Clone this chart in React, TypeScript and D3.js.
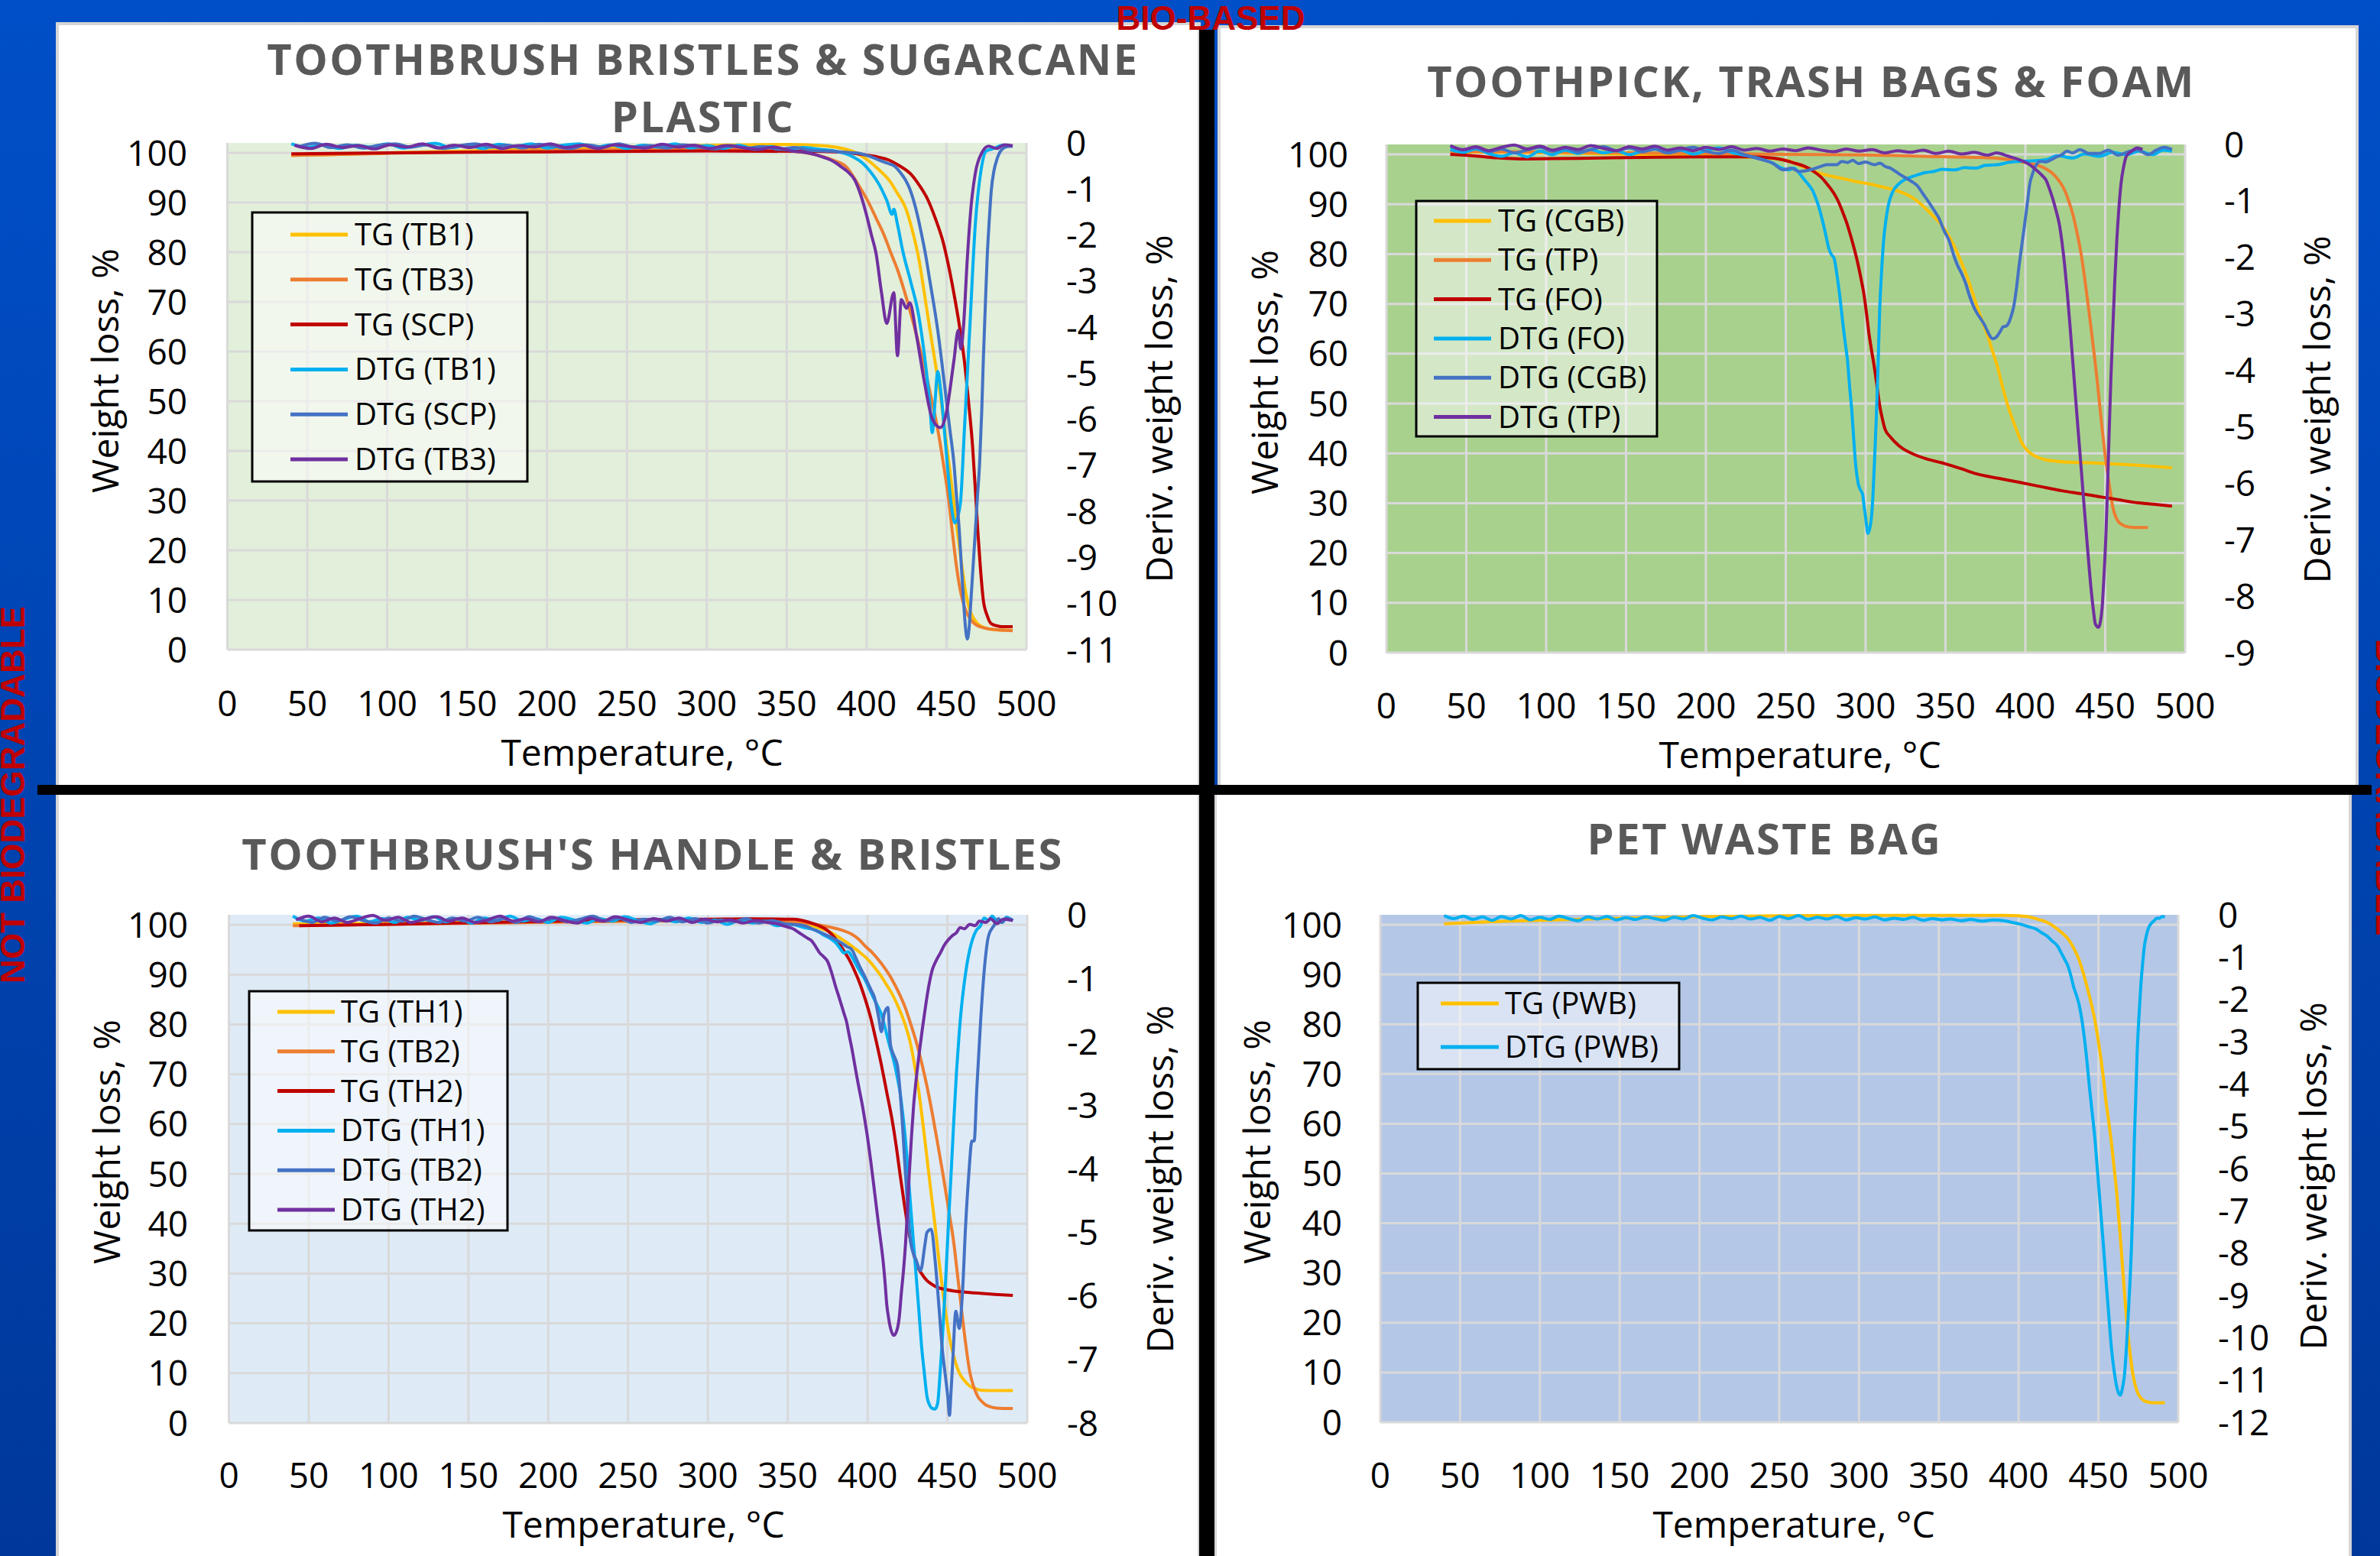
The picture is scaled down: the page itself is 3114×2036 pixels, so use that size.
import * as d3 from 'd3';

type Pt = [number, number];

// ---- tick labels ----
const temperatureTicks = [0, 50, 100, 150, 200, 250, 300, 350, 400, 450, 500];
const weightTicks = [0, 10, 20, 30, 40, 50, 60, 70, 80, 90, 100];
const derivTicks11 = [0, -1, -2, -3, -4, -5, -6, -7, -8, -9, -10, -11];
const derivTicks9 = [0, -1, -2, -3, -4, -5, -6, -7, -8, -9];
const derivTicks8 = [0, -1, -2, -3, -4, -5, -6, -7, -8];
const derivTicks12 = [0, -1, -2, -3, -4, -5, -6, -7, -8, -9, -10, -11, -12];

// ---- toothbrush bristles & sugarcane plastic ----
const tgTB1: Pt[] = [[40,99.5],[60,99.6],[100,100],[150,100.4],[200,100.8],[250,101.2],[300,101.5],[350,101.7],[375,101.4],[386,100.8],[394,99.9],[400.9,98.5],[407,96.8],[414.3,94.4],[419,92],[424.4,88.9],[428.5,84.5],[432.7,78.6],[436,72],[439.4,64.8],[442.8,58],[446.2,51.1],[449.5,42.5],[452.9,33.9],[456.2,25.3],[459.6,16.8],[462,11.5],[464.6,7.9],[468,5.8],[473,4.5],[480,4.0],[491.4,3.9]];
const tgTB3: Pt[] = [[40,99.5],[100,99.9],[150,100.2],[200,100.5],[250,100.7],[300,100.8],[340,100.6],[360,100.1],[372,99.3],[380,98.4],[387.5,97.1],[394,94],[400.9,90.2],[406,86.8],[411,83.4],[415,80],[419.3,76.5],[423.5,72.3],[427.7,67.6],[432.7,61.4],[437.8,54.6],[441.2,49.5],[444.5,44.3],[448,37.5],[451.2,30.5],[453.7,23.5],[456.2,16.8],[458.7,11.8],[461.2,8.6],[464.5,6.3],[468,5.1],[473,4.4],[478,4.1],[491.4,3.8]];
const tgSCP: Pt[] = [[40,99.8],[100,100],[200,100.2],[300,100.4],[360,100.3],[380,100.2],[394.2,99.8],[405,99.3],[414.3,98.5],[421,97.3],[427.7,95.7],[432.7,93.6],[437.8,90.9],[443,86.8],[447.9,82],[451.3,77.2],[454.6,71.7],[458,65.3],[461.2,58],[463.8,49.8],[466.3,40.9],[468,32.3],[469.6,23.7],[471.3,16],[473,10],[475.5,6.8],[478,5.2],[481.3,4.8],[484.7,4.6],[491.4,4.6]];
const dtgTB1: Pt[] = [[40,-0.02],[50,-0.10],[60,-0.04],[70,-0.12],[80,-0.05],[90,-0.09],[100,-0.02],[110,-0.11],[120,-0.06],[130,-0.01],[140,-0.10],[150,-0.05],[160,-0.12],[170,-0.03],[180,-0.08],[190,-0.02],[200,-0.11],[210,-0.05],[220,-0.02],[230,-0.10],[240,-0.04],[250,-0.12],[260,-0.05],[270,-0.09],[280,-0.02],[290,-0.11],[300,-0.06],[310,-0.12],[320,-0.05],[330,-0.14],[340,-0.08],[350,-0.15],[360,-0.10],
  [370.7,-0.14],[380.7,-0.18],[390.8,-0.29],[397.5,-0.44],[402.5,-0.63],[407.6,-0.89],[412.6,-1.25],[416,-1.55],[417,-1.44],[419.3,-1.77],[422.7,-2.36],[427.7,-3.03],[432.7,-3.77],[436.1,-4.59],[439.4,-5.62],[441.1,-6.29],[442.8,-5.62],[444.5,-4.96],[446.2,-5.33],[449.5,-6.58],[452.9,-7.84],[455.2,-8.25],[458.6,-7.84],[461.2,-6.21],[464.6,-3.99],[468,-1.77],[471.3,-0.66],[474.7,-0.18],[479.7,-0.12],[485,-0.05],[491.4,-0.07]];
const dtgSCP: Pt[] = [[45,-0.08],[55,-0.01],[65,-0.10],[75,-0.04],[85,-0.11],[95,-0.05],[105,-0.02],[115,-0.09],[125,-0.04],[135,-0.12],[145,-0.06],[155,-0.02],[165,-0.09],[175,-0.05],[185,-0.11],[195,-0.03],[205,-0.08],[215,-0.12],[225,-0.04],[235,-0.09],[245,-0.02],[255,-0.10],[265,-0.06],[275,-0.11],[285,-0.04],[295,-0.09],[305,-0.13],[315,-0.06],[325,-0.11],[335,-0.08],[345,-0.14],[355,-0.10],[365,-0.16],
  [377.4,-0.18],[385,-0.2],[394.2,-0.22],[401,-0.28],[407.6,-0.37],[413,-0.44],[417.7,-0.51],[421,-0.64],[424.4,-0.81],[427,-1.0],[429.4,-1.25],[432,-1.6],[434.4,-1.99],[437,-2.45],[439.4,-2.96],[442,-3.5],[444.5,-4.07],[447,-4.75],[449.5,-5.47],[452,-6.2],[454.6,-6.95],[456.3,-7.7],[458,-8.43],[459.3,-9.2],[460.6,-9.91],[461.8,-10.5],[463,-10.77],[464.2,-10.5],[465.3,-9.91],[466.6,-9.2],[468,-8.43],[469.3,-7.7],[470.7,-6.95],[472,-5.85],[473,-4.73],[474.2,-3.6],[475.4,-2.51],[476.7,-1.7],[478,-1.03],[479.7,-0.6],[481.4,-0.37],[484.7,-0.14],[488,-0.08],[491.4,-0.07]];
const dtgTB3: Pt[] = [[42,-0.05],[52,-0.12],[62,-0.03],[72,-0.10],[82,-0.06],[92,-0.13],[102,-0.04],[112,-0.09],[122,-0.02],[132,-0.11],[142,-0.05],[152,-0.10],[162,-0.03],[172,-0.12],[182,-0.06],[192,-0.09],[202,-0.02],[212,-0.10],[222,-0.05],[232,-0.12],[242,-0.04],[252,-0.08],[262,-0.11],[272,-0.03],[282,-0.09],[292,-0.05],[302,-0.12],[312,-0.06],[322,-0.10],[332,-0.14],[342,-0.09],
  [353.9,-0.18],[360,-0.2],[367.3,-0.25],[372,-0.3],[377.4,-0.37],[381,-0.44],[384.1,-0.52],[388,-0.62],[392.5,-0.80],[396.5,-1.15],[400.2,-1.6],[403,-2.0],[405.9,-2.4],[409.3,-3.25],[412.6,-3.92],[417,-3.25],[419.3,-4.62],[421.7,-3.4],[425,-3.59],[427,-3.47],[431,-4.14],[436.1,-5.18],[441.1,-5.99],[446.2,-6.18],[449.5,-5.92],[454.6,-4.73],[457.3,-4.07],[459,-4.47],[460.6,-3.99],[463,-2.51],[465.3,-1.4],[468,-0.66],[472,-0.22],[476.3,-0.07],[481.4,-0.12],[486,-0.04],[491.4,-0.06]];

// ---- toothpick, trash bags & foam ----
const tgCGB: Pt[] = [[40,100.5],[80,100.4],[120,100.2],[160,100],[200,99.7],[230,99.4],[245,99.1],[251.8,98.7],[260,97.6],[268.5,96.5],[276,95.8],[285.3,95.2],[293,94.6],[302.1,94.1],[310,93.5],[318.9,92.8],[324,92.2],[328.9,91.4],[334,90.2],[339,88.7],[343,87.4],[347.4,85.9],[351,84.2],[354,82.5],[358,79.8],[362.5,76.3],[365.8,73.3],[369,70.2],[372.5,67],[376,64],[379.3,60.6],[382.7,57.2],[385.2,54],[387.7,51],[390.2,48.4],[392.7,46.2],[395.3,44],[397.8,42.1],[400.3,40.9],[402.8,40.1],[407,39.3],[412.9,38.7],[420,38.4],[429.7,38.2],[440,38.1],[449.8,37.98],[460,37.8],[470,37.6],[480,37.4],[491.8,37.1]];
const tgTP: Pt[] = [[40,100.6],[100,100.5],[150,100.3],[200,100.2],[250,100],[300,99.9],[340,99.6],[379.3,99.3],[396.1,98.6],[403,98.2],[409.5,97.6],[414,96.9],[418,95.9],[421.5,94.5],[424.6,92.8],[427.2,90.6],[429.7,88],[432.2,84.5],[434.7,80.4],[437.2,75],[439.7,68.8],[442.3,62],[444.8,55.1],[446.5,49.8],[448.1,44.8],[449.8,40],[451.5,35.9],[453.2,32.2],[454.8,29.1],[456.5,27.3],[458.2,26.3],[460.5,25.7],[463.2,25.3],[470,25.1],[476.7,25.1]];
const tgFO: Pt[] = [[40,100],[55,99.7],[70,99.3],[83.9,99.1],[120,99.2],[160,99.4],[194.7,99.5],[228.3,99.5],[240,99.3],[248.4,98.9],[255,98.3],[261.8,97.6],[267,96.7],[271.9,95.5],[276,94],[280.3,92.1],[283,90.5],[285.3,88.7],[288,86.4],[290.4,83.9],[293,80.9],[295.4,77.7],[297,75.2],[298.8,72.2],[300.5,68.2],[302.1,64],[303.8,60.5],[305.5,57.2],[307.2,53.3],[308.8,49.6],[310.5,46.9],[312.2,44.8],[315.5,43.3],[318.9,42.1],[323,41],[328.9,40],[338,38.9],[349.1,37.98],[360,36.9],[369.2,35.9],[383,35],[396.1,34.2],[410,33.3],[422.9,32.5],[435,31.9],[446.4,31.3],[458,30.7],[470,30.1],[480,29.8],[491.8,29.4]];
const dtgFO: Pt[] = [[40,-0.09],[48,-0.14],[56,-0.08],[64,-0.16],[72,-0.21],[80,-0.15],[88,-0.22],[96,-0.12],[104,-0.18],[112,-0.10],[120,-0.16],[128,-0.09],[136,-0.15],[144,-0.11],[152,-0.18],[160,-0.12],[168,-0.08],[176,-0.15],[184,-0.10],[192,-0.17],[200,-0.11],[208,-0.06],[216,-0.14],[224,-0.19],[232,-0.24],
  [241.7,-0.33],[246,-0.40],[251.8,-0.45],[255,-0.42],[258.5,-0.51],[261.8,-0.63],[264.5,-0.72],[266.9,-0.82],[268.5,-0.93],[270.2,-1.06],[272,-1.24],[273.6,-1.42],[275.2,-1.62],[276.9,-1.84],[278.6,-1.95],[280.3,-2.02],[282,-2.3],[283.6,-2.63],[284.8,-2.93],[286,-3.23],[287.4,-3.55],[288.7,-3.84],[290,-4.3],[291.4,-4.74],[292.5,-5.2],[293.7,-5.65],[295.4,-6.01],[296.8,-6.12],[298.1,-6.19],[299,-6.4],[299.8,-6.56],[300.6,-6.75],[301.4,-6.89],[302.6,-6.8],[303.8,-6.56],[304.6,-6.2],[305.5,-5.65],[306.3,-5.1],[307.2,-4.44],[308,-3.7],[308.8,-2.93],[310,-2.25],[311.2,-1.72],[312.5,-1.38],[313.9,-1.12],[317.3,-0.82],[320,-0.72],[324,-0.63],[328,-0.58],[332.3,-0.54],[337,-0.50],[342.4,-0.48],[348,-0.44],[355.8,-0.45],[362,-0.41],[369.2,-0.42],[375,-0.37],[382.7,-0.36],[389,-0.32],[396.1,-0.30],[404,-0.29],[412.9,-0.27],[420,-0.20],[429.7,-0.24],[437,-0.17],[446.4,-0.21],[455,-0.14],[463.2,-0.18],[471,-0.12],[480,-0.18],[486,-0.10],[491.8,-0.12]];
const dtgCGB: Pt[] = [[40,-0.03],[48,-0.10],[56,-0.06],[64,-0.13],[72,-0.08],[80,-0.15],[88,-0.10],[96,-0.05],[104,-0.12],[112,-0.07],[120,-0.14],[128,-0.09],[136,-0.04],[144,-0.11],[152,-0.06],[160,-0.13],[168,-0.08],[176,-0.15],[184,-0.10],[192,-0.05],[200,-0.12],[208,-0.16],[216,-0.10],[224,-0.18],
  [235,-0.27],[241.7,-0.33],[248.4,-0.45],[253.4,-0.42],[258.5,-0.48],[265.2,-0.45],[271.9,-0.39],[276,-0.36],[281.9,-0.36],[285,-0.30],[288.7,-0.32],[292,-0.28],[295.4,-0.34],[300,-0.31],[305.5,-0.36],[309,-0.33],[312.2,-0.39],[315.5,-0.42],[318.9,-0.48],[322,-0.54],[325.6,-0.60],[329,-0.66],[332.3,-0.73],[336,-0.88],[339,-1.0],[342.5,-1.15],[345.8,-1.30],[349,-1.52],[352.5,-1.72],[355,-1.95],[357.5,-2.14],[360,-2.28],[362.5,-2.45],[365,-2.68],[367.6,-2.87],[370,-3.0],[372.6,-3.11],[374.5,-3.2],[376,-3.29],[378,-3.40],[379.3,-3.44],[381,-3.43],[382.7,-3.38],[384.5,-3.30],[386,-3.23],[387.8,-3.22],[389.4,-3.17],[391,-3.05],[392.7,-2.87],[394.4,-2.55],[396.1,-2.14],[397.8,-1.78],[399.5,-1.42],[401.2,-1.05],[402.8,-0.69],[404.5,-0.52],[406.2,-0.39],[409.5,-0.30],[413,-0.31],[416.2,-0.27],[419.5,-0.22],[422.9,-0.18],[426,-0.12],[429.7,-0.15],[434,-0.09],[440,-0.16],[446.4,-0.16],[452,-0.10],[458,-0.19],[463.2,-0.14],[470,-0.09],[476.7,-0.18],[482,-0.10],[487,-0.05],[491.8,-0.09]];
const dtgTP: Pt[] = [[40,-0.02],[48,-0.09],[56,-0.04],[64,-0.11],[72,-0.05],[80,-0.01],[88,-0.08],[96,-0.03],[104,-0.10],[112,-0.05],[120,-0.09],[128,-0.02],[136,-0.07],[144,-0.11],[152,-0.04],[160,-0.08],[168,-0.03],[176,-0.10],[184,-0.06],[192,-0.11],[200,-0.05],[208,-0.09],[216,-0.04],[224,-0.10],[232,-0.07],[240,-0.12],[248,-0.08],[256,-0.11],[264,-0.06],[272,-0.10],[280,-0.13],[288,-0.08],[296,-0.12],[304,-0.09],[312,-0.15],[320,-0.11],[328,-0.14],[336,-0.10],[344,-0.16],[352,-0.12],[360,-0.17],[368,-0.14],[376,-0.19],[382,-0.15],
  [389.4,-0.21],[396.1,-0.27],[402.8,-0.36],[405,-0.41],[407.9,-0.48],[410.5,-0.55],[412.9,-0.63],[415,-0.78],[416.9,-0.94],[419,-1.15],[421.3,-1.42],[423,-1.75],[424.6,-2.14],[426.3,-2.65],[428,-3.23],[429.7,-3.85],[431.3,-4.44],[433,-5.05],[434.7,-5.65],[436.4,-6.27],[438.1,-6.86],[439.8,-7.45],[441.4,-7.95],[442.6,-8.25],[443.8,-8.49],[445.8,-8.55],[447,-8.45],[448.1,-8.19],[449.3,-7.6],[450.5,-6.86],[451.5,-6.0],[452.5,-5.05],[453.6,-4.1],[454.8,-3.23],[456,-2.4],[457.2,-1.72],[458.5,-1.15],[459.9,-0.69],[461.5,-0.40],[463.2,-0.21],[466.6,-0.12],[470,-0.06],[473.3,-0.09]];

// ---- toothbrush's handle & bristles ----
const tgTH1: Pt[] = [[40,100.2],[100,100.3],[150,100.5],[200,100.6],[250,100.7],[300,100.8],[340,100.6],[360,100.2],[368,99.5],[376.8,98.5],[383,97.3],[390.2,95.7],[395,94.5],[400.3,93],[404.5,91.4],[408.7,89.6],[412,87.9],[415.4,86.1],[418.7,83.9],[422.1,81.3],[424.6,78.9],[427.1,75.9],[429.6,71.5],[432.2,66.3],[434.7,60],[437.2,53.3],[439.7,46.4],[442.3,39.6],[444.8,32.4],[447.3,25.9],[449.8,20.2],[452.3,15.6],[454.8,12.5],[457.4,10.1],[460.7,8.5],[464.1,7.4],[467.5,6.9],[470.8,6.6],[480,6.5],[491,6.5]];
const tgTB2: Pt[] = [[40,99.8],[100,100.1],[150,100.3],[200,100.5],[250,100.7],[300,100.9],[340,100.7],[360,100.4],[376.8,99.5],[384,98.9],[390.2,98.1],[394.5,97.1],[398.6,95.7],[403,94.4],[407,92.9],[410.3,91.5],[413.7,89.9],[417,88],[420.4,85.8],[423.8,83.2],[427.1,80],[430.5,76.5],[433.8,72.4],[437.2,67.6],[440.5,62.2],[443.9,56.1],[447.3,49.8],[450.7,43],[454,36.2],[456.5,29.3],[459,22.4],[461.5,15.8],[464.1,10.1],[466.6,7.2],[469.1,5.3],[471.6,4.3],[474.2,3.6],[477.5,3.2],[480.9,3.0],[491,2.9]];
const tgTH2: Pt[] = [[44,99.8],[100,100.1],[150,100.4],[200,100.7],[250,101],[300,101.1],[326.4,101.2],[353.3,101.1],[363.3,100.5],[368,100],[373.4,99.2],[377.5,98.1],[381.8,96.4],[385.1,94.8],[388.5,93],[391.8,90.8],[395.2,88.2],[398.6,85],[402,81.3],[405.3,76.8],[408.7,71.8],[412,66.4],[415.4,60.8],[418,55.5],[420.4,49.8],[423,44],[425.5,38.9],[428,35.1],[430.5,32],[433.8,30],[437.2,28.6],[440.5,27.8],[443.9,27.2],[449,26.8],[454,26.5],[460,26.3],[467.4,26.1],[480,25.8],[491,25.6]];
const dtgTH1: Pt[] = [[40,-0.02],[48,-0.10],[56,-0.05],[64,-0.13],[72,-0.07],[80,-0.02],[88,-0.11],[96,-0.06],[104,-0.12],[112,-0.04],[120,-0.09],[128,-0.03],[136,-0.11],[144,-0.06],[152,-0.13],[160,-0.05],[168,-0.09],[176,-0.02],[184,-0.10],[192,-0.06],[200,-0.12],[208,-0.04],[216,-0.08],[224,-0.13],[232,-0.06],[240,-0.10],[248,-0.03],[256,-0.09],[264,-0.14],[272,-0.07],[280,-0.11],[288,-0.05],[296,-0.12],[304,-0.08],[312,-0.15],[320,-0.09],[328,-0.13],[336,-0.10],
  [343.2,-0.17],[352,-0.15],[360,-0.20],[367,-0.24],[373.4,-0.33],[377,-0.38],[380.1,-0.44],[382.6,-0.52],[385.2,-0.60],[387.7,-0.58],[390.2,-0.66],[393.6,-0.82],[396,-0.92],[398.6,-1.03],[401,-1.16],[403.6,-1.30],[406,-1.42],[408.7,-1.57],[411.2,-1.8],[413.7,-2.05],[415.4,-2.2],[417.1,-2.37],[418.8,-2.58],[420.4,-2.80],[422.1,-3.15],[423.8,-3.56],[425.5,-4.08],[427.1,-4.63],[428.8,-5.17],[430.5,-5.70],[432.2,-6.25],[433.8,-6.78],[435.5,-7.2],[437.2,-7.58],[438.9,-7.72],[440.5,-7.77],[442.2,-7.78],[443.9,-7.69],[445.2,-7.3],[446.6,-6.78],[447.8,-6.25],[449,-5.70],[450.6,-4.9],[452.3,-4.09],[454,-3.25],[455.7,-2.48],[457.3,-1.9],[459,-1.41],[460.7,-1.05],[462.4,-0.76],[464,-0.55],[465.7,-0.39],[468,-0.25],[470.8,-0.17],[473,-0.05],[475.8,-0.09],[478,-0.02],[481,-0.10],[484.2,-0.12],[487,-0.04],[491,-0.09]];
const dtgTB2: Pt[] = [[44,-0.06],[52,-0.12],[60,-0.04],[68,-0.10],[76,-0.03],[84,-0.09],[92,-0.13],[100,-0.05],[108,-0.10],[116,-0.02],[124,-0.08],[132,-0.12],[140,-0.05],[148,-0.10],[156,-0.04],[164,-0.11],[172,-0.06],[180,-0.12],[188,-0.03],[196,-0.09],[204,-0.05],[212,-0.11],[220,-0.07],[228,-0.02],[236,-0.10],[244,-0.05],[252,-0.12],[260,-0.07],[268,-0.10],[276,-0.04],[284,-0.11],[292,-0.06],[300,-0.13],[308,-0.08],[316,-0.11],[324,-0.06],[332,-0.13],[340,-0.09],[348,-0.14],
  [360,-0.17],[367,-0.24],[373.4,-0.31],[378.5,-0.37],[383.5,-0.44],[387,-0.5],[390.2,-0.55],[392.7,-0.68],[395.2,-0.82],[397.8,-0.95],[400.3,-1.08],[402.3,-1.19],[404.3,-1.30],[405.7,-1.45],[407,-1.62],[408.7,-1.84],[410.3,-1.57],[412.7,-1.46],[414.4,-2.05],[416.4,-2.21],[418.7,-2.37],[421.1,-3.02],[423.8,-4.09],[427.1,-5.17],[430.5,-5.44],[433.2,-5.60],[435.9,-5.20],[437.2,-5.00],[439.9,-4.95],[442.3,-5.44],[444.6,-6.13],[446.6,-6.78],[449,-7.31],[450.3,-7.6],[451.3,-7.88],[452.3,-7.5],[453.3,-7.05],[455.3,-6.24],[457.4,-6.51],[459.4,-5.97],[461.4,-4.90],[463.4,-4.09],[465.4,-3.56],[466.8,-3.56],[468.4,-2.75],[470.8,-1.68],[473.1,-0.87],[475.8,-0.33],[479.2,-0.17],[482,-0.06],[484.2,-0.12],[487,-0.05],[491,-0.09]];
const dtgTH2: Pt[] = [[42,-0.08],[50,-0.02],[58,-0.11],[66,-0.05],[74,-0.12],[82,-0.06],[90,-0.01],[98,-0.09],[106,-0.04],[114,-0.12],[122,-0.07],[130,-0.03],[138,-0.10],[146,-0.05],[154,-0.12],[162,-0.08],[170,-0.02],[178,-0.10],[186,-0.06],[194,-0.11],[202,-0.04],[210,-0.09],[218,-0.13],[226,-0.05],[234,-0.10],[242,-0.03],[250,-0.08],[258,-0.12],[266,-0.06],[274,-0.10],[282,-0.05],[290,-0.12],[298,-0.07],[306,-0.11],[314,-0.08],[322,-0.13],[330,-0.09],[337,-0.12],
  [343.2,-0.14],[348,-0.18],[353.3,-0.22],[357,-0.28],[360,-0.33],[362.5,-0.37],[365,-0.41],[367.5,-0.5],[370,-0.60],[372.5,-0.66],[375.1,-0.74],[377.6,-0.92],[380.1,-1.14],[381.8,-1.27],[383.5,-1.41],[385.2,-1.55],[386.8,-1.68],[388.5,-1.9],[390.2,-2.11],[391.9,-2.35],[393.6,-2.59],[395.2,-2.8],[396.9,-3.02],[398.6,-3.28],[400.3,-3.56],[402,-3.88],[403.6,-4.20],[405.3,-4.55],[407,-4.90],[408.4,-5.17],[409.7,-5.44],[411,-5.8],[412,-6.13],[413.2,-6.35],[414.4,-6.51],[416.4,-6.62],[418.7,-6.51],[420,-6.3],[421.1,-5.97],[422.5,-5.6],[423.8,-5.17],[425,-4.65],[426.1,-4.09],[427.5,-3.5],[428.8,-3.02],[430.5,-2.58],[432.2,-2.21],[434.3,-1.8],[436.5,-1.41],[438.5,-1.1],[440.5,-0.87],[443,-0.72],[445.6,-0.60],[448,-0.48],[450.7,-0.39],[453,-0.33],[455.7,-0.28],[458,-0.2],[460.7,-0.22],[464,-0.15],[467.4,-0.17],[470,-0.10],[474.2,-0.12],[477,-0.06],[480.9,-0.14],[485,-0.07],[491,-0.09]];

// ---- pet waste bag ----
const tgPWB: Pt[] = [[40,100.2],[70,100.6],[100,100.9],[150,101.3],[200,101.6],[250,101.8],[300,101.9],[350,101.9],[390.8,101.9],[400,101.8],[407.6,101.5],[412,101.1],[417.7,100.5],[421,99.9],[424.4,99.1],[427.8,98.2],[431.1,97.1],[434.5,95.3],[437.8,93],[440.4,90.4],[442.9,87.5],[445.4,84.3],[447.9,80.6],[449.6,77.3],[451.3,73.7],[453,69.5],[454.6,64.9],[456.3,60.8],[458,56.6],[459.7,51.5],[461.4,46.3],[462.7,41.2],[464,36],[465.2,30.8],[466.4,25.7],[467.6,21],[468.8,16.8],[470.1,13.2],[471.4,10],[473,7.5],[474.8,5.8],[476.8,4.8],[478.8,4.3],[481.8,4.0],[484.9,3.9],[491.6,3.9]];
const dtgPWB: Pt[] = [[40,-0.02],[46,-0.09],[52,-0.03],[58,-0.11],[64,-0.05],[70,-0.13],[76,-0.04],[82,-0.10],[88,-0.02],[94,-0.12],[100,-0.06],[106,-0.11],[112,-0.03],[118,-0.09],[124,-0.14],[130,-0.05],[136,-0.10],[142,-0.04],[148,-0.12],[154,-0.07],[160,-0.11],[166,-0.05],[172,-0.09],[178,-0.13],[184,-0.06],[190,-0.10],[196,-0.02],[202,-0.08],[208,-0.12],[214,-0.05],[220,-0.09],[226,-0.03],[232,-0.10],[238,-0.06],[244,-0.13],[250,-0.04],[256,-0.09],[262,-0.02],[268,-0.11],[274,-0.06],[280,-0.10],[286,-0.04],[292,-0.12],[298,-0.07],[304,-0.10],[310,-0.05],[316,-0.12],[322,-0.08],[328,-0.11],[334,-0.06],[340,-0.13],[346,-0.09],[352,-0.12],
  [357.2,-0.10],[364,-0.14],[370,-0.11],[377,-0.15],[384,-0.12],[390.8,-0.14],[396,-0.18],[400.9,-0.22],[406,-0.28],[411,-0.34],[414.3,-0.42],[417.7,-0.50],[421,-0.62],[424.4,-0.74],[426,-0.85],[427.8,-0.98],[429.5,-1.1],[431.1,-1.23],[432.8,-1.45],[434.5,-1.71],[436.2,-1.9],[437.8,-2.11],[439.5,-2.45],[441.2,-2.92],[442.9,-3.5],[444.5,-4.13],[446.2,-4.72],[447.9,-5.34],[449.6,-6.15],[451.3,-6.96],[453,-7.76],[454.6,-8.57],[456.3,-9.38],[458,-10.19],[459.7,-10.75],[461.4,-11.15],[462.5,-11.3],[463.7,-11.36],[465,-11.2],[466.4,-10.85],[467.6,-10.2],[468.8,-9.38],[470,-8.5],[470.8,-7.76],[471.7,-6.6],[472.5,-5.34],[473.4,-4.3],[474.2,-3.33],[475.4,-2.4],[476.5,-1.71],[477.7,-1.15],[478.8,-0.74],[480.1,-0.48],[481.5,-0.30],[483.2,-0.2],[484.9,-0.14],[486.5,-0.08],[488.2,-0.08],[490,-0.04],[491.6,-0.06]];

// colours (Office palette)
const YELLOW = '#ffc000';
const ORANGE = '#ed7d31';
const DARKRED = '#c00000';
const CYAN = '#00b0f0';
const BLUE = '#4472c4';
const PURPLE = '#7030a0';

const FONT = '"Open Sans", Lato, "DejaVu Sans", sans-serif';

interface SeriesDef { label: string; data: Pt[]; color: string; axis: 'left' | 'right' }
interface PanelDef {
  title: string[]; titleX: number; titleY: number[];
  bg: string;
  x0: number; x1: number; top: number; bottom: number;
  derivTicks: number[];
  leftTickX: number; rightTickX: number; xTickY: number;
  leftTitle: [number, number]; rightTitle: [number, number]; xTitle: [number, number];
  legend: { x: number; y: number; w: number; h: number; row0: number; step: number; s0: number; s1: number; tx: number };
  series: SeriesDef[];
}

const panels: PanelDef[] = [
  {
    title: ['TOOTHBRUSH BRISTLES & SUGARCANE', 'PLASTIC'], titleX: 920, titleY: [98, 173],
    bg: '#e2efda', x0: 297.5, x1: 1343, top: 187, bottom: 850, derivTicks: derivTicks11,
    leftTickX: 245, rightTickX: 1395, xTickY: 920,
    leftTitle: [141, 485], rightTitle: [1520, 535], xTitle: [840, 988],
    legend: { x: 330, y: 278, w: 360, h: 352, row0: 307, step: 58.8, s0: 380, s1: 455, tx: 464 },
    series: [
      { label: 'TG (TB1)', data: tgTB1, color: YELLOW, axis: 'left' },
      { label: 'TG (TB3)', data: tgTB3, color: ORANGE, axis: 'left' },
      { label: 'TG (SCP)', data: tgSCP, color: DARKRED, axis: 'left' },
      { label: 'DTG (TB1)', data: dtgTB1, color: CYAN, axis: 'right' },
      { label: 'DTG (SCP)', data: dtgSCP, color: BLUE, axis: 'right' },
      { label: 'DTG (TB3)', data: dtgTB3, color: PURPLE, axis: 'right' },
    ],
  },
  {
    title: ['TOOTHPICK, TRASH BAGS & FOAM'], titleX: 2370, titleY: [127],
    bg: '#a9d18e', x0: 1814, x1: 2859, top: 189, bottom: 854, derivTicks: derivTicks9,
    leftTickX: 1764, rightTickX: 2910, xTickY: 923,
    leftTitle: [1658, 487], rightTitle: [3035, 536], xTitle: [2355, 991],
    legend: { x: 1853, y: 263, w: 315, h: 308, row0: 289, step: 51.3, s0: 1876, s1: 1951, tx: 1960 },
    series: [
      { label: 'TG (CGB)', data: tgCGB, color: YELLOW, axis: 'left' },
      { label: 'TG (TP)', data: tgTP, color: ORANGE, axis: 'left' },
      { label: 'TG (FO)', data: tgFO, color: DARKRED, axis: 'left' },
      { label: 'DTG (FO)', data: dtgFO, color: CYAN, axis: 'right' },
      { label: 'DTG (CGB)', data: dtgCGB, color: BLUE, axis: 'right' },
      { label: 'DTG (TP)', data: dtgTP, color: PURPLE, axis: 'right' },
    ],
  },
  {
    title: ["TOOTHBRUSH'S HANDLE & BRISTLES"], titleX: 854, titleY: [1138],
    bg: '#deebf7', x0: 299.6, x1: 1344, top: 1197, bottom: 1862, derivTicks: derivTicks8,
    leftTickX: 246, rightTickX: 1396, xTickY: 1930,
    leftTitle: [143, 1494], rightTitle: [1521, 1543], xTitle: [842, 1998],
    legend: { x: 326, y: 1297, w: 338, h: 313, row0: 1324, step: 51.8, s0: 363, s1: 438, tx: 446 },
    series: [
      { label: 'TG (TH1)', data: tgTH1, color: YELLOW, axis: 'left' },
      { label: 'TG (TB2)', data: tgTB2, color: ORANGE, axis: 'left' },
      { label: 'TG (TH2)', data: tgTH2, color: DARKRED, axis: 'left' },
      { label: 'DTG (TH1)', data: dtgTH1, color: CYAN, axis: 'right' },
      { label: 'DTG (TB2)', data: dtgTB2, color: BLUE, axis: 'right' },
      { label: 'DTG (TH2)', data: dtgTH2, color: PURPLE, axis: 'right' },
    ],
  },
  {
    title: ['PET WASTE BAG'], titleX: 2309, titleY: [1118],
    bg: '#b4c7e7', x0: 1806, x1: 2850, top: 1197, bottom: 1861, derivTicks: derivTicks12,
    leftTickX: 1756, rightTickX: 2902, xTickY: 1930,
    leftTitle: [1648, 1494], rightTitle: [3030, 1539], xTitle: [2347, 1998],
    legend: { x: 1855, y: 1286, w: 342, h: 113, row0: 1313, step: 57, s0: 1885, s1: 1961, tx: 1969 },
    series: [
      { label: 'TG (PWB)', data: tgPWB, color: YELLOW, axis: 'left' },
      { label: 'DTG (PWB)', data: dtgPWB, color: CYAN, axis: 'right' },
    ],
  },
];

function Panel({ p }: { p: PanelDef }) {
  const x = d3.scaleLinear().domain([0, 500]).range([p.x0, p.x1]);
  const yL = d3.scaleLinear().domain([0, 102]).range([p.bottom, p.top]);
  const dMin = d3.min(p.derivTicks) as number;
  const yR = d3.scaleLinear().domain([dMin, 0]).range([p.bottom, p.top]);
  const path = (s: SeriesDef) => {
    const ys = s.axis === 'left' ? yL : yR;
    return d3.line<Pt>().x(d => x(d[0])).y(d => ys(d[1])).curve(d3.curveMonotoneX)(s.data) || '';
  };
  const lg = p.legend;
  return (
    <g>
      {/* plot area */}
      <rect x={p.x0} y={p.top} width={p.x1 - p.x0} height={p.bottom - p.top} fill={p.bg} />
      {weightTicks.map(v => (
        <line key={'h' + v} x1={p.x0} x2={p.x1} y1={yL(v)} y2={yL(v)} stroke="#d9d9d9" strokeWidth={3} />
      ))}
      {temperatureTicks.map(t => (
        <line key={'v' + t} x1={x(t)} x2={x(t)} y1={p.top} y2={p.bottom} stroke="#d9d9d9" strokeWidth={3} />
      ))}
      {p.series.map(s => (
        <path key={s.label} d={path(s)} fill="none" stroke={s.color} strokeWidth={4} strokeLinejoin="round" />
      ))}

      {/* tick labels */}
      <g fontFamily={FONT} fontSize={46} fill="#000">
        {weightTicks.map(v => (
          <text key={'l' + v} x={p.leftTickX} y={yL(v) + 16.5} textAnchor="end">{v}</text>
        ))}
        {p.derivTicks.map(v => (
          <text key={'r' + v} x={p.rightTickX} y={yR(v) + 16.5} textAnchor="start">{v}</text>
        ))}
        {temperatureTicks.map(t => (
          <text key={'x' + t} x={x(t)} y={p.xTickY + 16.5} textAnchor="middle">{t}</text>
        ))}
      </g>

      {/* axis titles */}
      <g fontFamily={FONT} fontSize={48} fill="#000">
        <text transform={`translate(${p.leftTitle[0]},${p.leftTitle[1]}) rotate(-90)`} y={14} textAnchor="middle">Weight loss, %</text>
        <text transform={`translate(${p.rightTitle[0]},${p.rightTitle[1]}) rotate(-90)`} y={14} textAnchor="middle">Deriv. weight loss, %</text>
        <text x={p.xTitle[0]} y={p.xTitle[1] + 14} textAnchor="middle">Temperature, °C</text>
      </g>

      {/* chart title */}
      {p.title.map((t, i) => (
        <text key={t} x={p.titleX} y={p.titleY[i]} textAnchor="middle" fontFamily={FONT} fontWeight={700}
          fontSize={56} letterSpacing={2.5} fill="#595959">{t}</text>
      ))}

      {/* legend */}
      <rect x={lg.x} y={lg.y} width={lg.w} height={lg.h} fill="#ffffff" fillOpacity={0.5} stroke="#000" strokeWidth={3} />
      {p.series.map((s, i) => {
        const ry = lg.row0 + i * lg.step;
        return (
          <g key={'lg' + s.label}>
            <line x1={lg.s0} x2={lg.s1} y1={ry} y2={ry} stroke={s.color} strokeWidth={5} />
            <text x={lg.tx} y={ry + 14} fontFamily={FONT} fontSize={40} fill="#000">{s.label}</text>
          </g>
        );
      })}
    </g>
  );
}

export default function App() {
  const W = 3114;
  const H = 2036;
  return (
    <svg width={W} height={H} viewBox={`0 0 ${W} ${H}`} style={{ position: 'absolute', left: 0, top: 0, display: 'block' }}>
      <defs>
        <linearGradient id="bgGrad" x1="0" y1="0" x2="0" y2="1">
          <stop offset="0" stopColor="#004fc8" />
          <stop offset="1" stopColor="#00389a" />
        </linearGradient>
      </defs>
      <rect x={0} y={0} width={W} height={H} fill="url(#bgGrad)" />

      {/* white chart panels */}
      <rect x={75} y={31} width={1494} height={1000} fill="#fff" stroke="#d6d6d6" strokeWidth={4} />
      <rect x={1595} y={35} width={1489} height={996} fill="#fff" stroke="#d6d6d6" strokeWidth={4} />
      <rect x={75} y={1038} width={1494} height={1000} fill="#fff" stroke="#d6d6d6" strokeWidth={4} />
      <rect x={1590} y={1038} width={1485} height={1000} fill="#fff" stroke="#d6d6d6" strokeWidth={4} />

      {panels.map((p, i) => <Panel key={i} p={p} />)}

      {/* dividing black cross */}
      <rect x={1569} y={39} width={20} height={H - 39} fill="#000" />
      <rect x={49} y={1027} width={3054} height={13} fill="#000" />

      {/* quadrant labels */}
      <g fontFamily='"Liberation Sans", Arial, sans-serif' fontWeight={700} fontSize={44} fill="#c00000">
        <text x={1584} y={39} textAnchor="middle">BIO-BASED</text>
        <text transform="translate(32,1040) rotate(-90)" textAnchor="middle">NOT BIODEGRADABLE</text>
        <text transform="translate(3109,1030) rotate(90)" textAnchor="middle">BIODEGRADABLE</text>
      </g>
    </svg>
  );
}
